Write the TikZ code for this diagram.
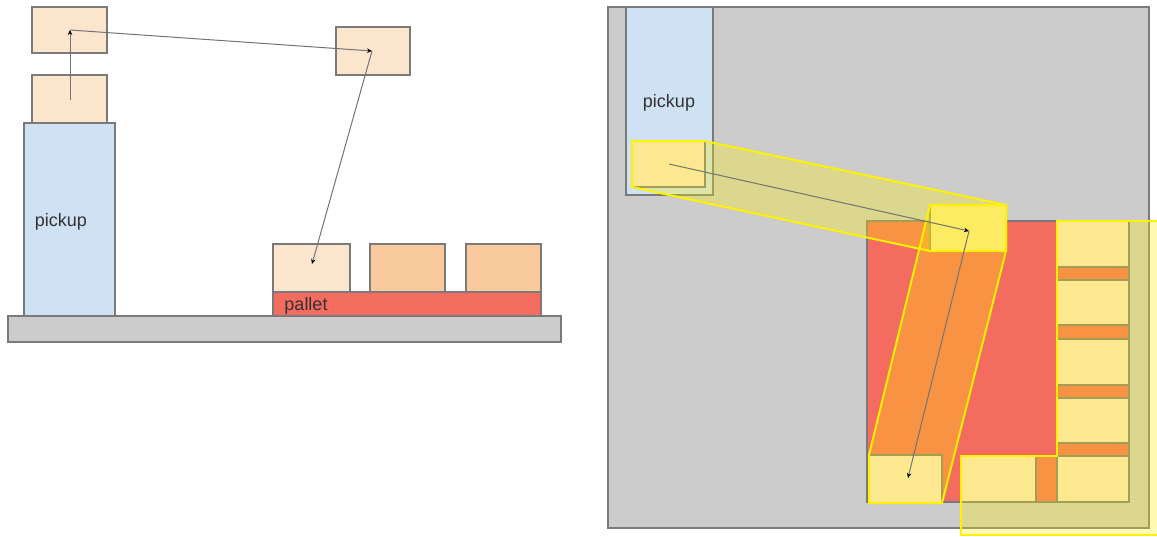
\documentclass[tikz,border=0pt]{standalone}
\usepackage{fontspec}
\setmainfont{Liberation Sans}
\usetikzlibrary{arrows.meta}
\definecolor{peach}{HTML}{FCE5CD}
\definecolor{tan}{HTML}{F9CB9C}
\definecolor{skyb}{HTML}{CFE2F3}
\definecolor{palletred}{HTML}{F46B5F}
\definecolor{floorgray}{HTML}{CCCCCC}
\definecolor{edgegray}{HTML}{7A7A7A}
\definecolor{hilite}{HTML}{FFF200}
\tikzset{
  blockbox/.style={draw=edgegray,line width=1.3pt,inner sep=0pt,outer sep=0pt},
  sweep/.style={draw=hilite,line width=2pt,fill=hilite,fill opacity=0.3,line join=miter},
  conn/.style={draw=black!55,line width=1pt,-{Stealth[length=5pt,width=4.5pt,black]}},
  lbl/.style={font=\fontsize{18}{20}\selectfont,text=black!80,inner sep=0pt},
}
\newcommand{\bx}[6]{\node[blockbox,fill=#2,minimum width={#5-#3},minimum height={#6-#4}] (#1) at ({(#3+#5)/2},{(#4+#6)/2}) {};}
\begin{document}
\begin{tikzpicture}[x=1pt,y=-1pt]
\useasboundingbox (0,0) rectangle (1157,536);
\clip (0,0) rectangle (1157,536);
% side view
\bx{sfloor}{floorgray}{8}{316}{561}{342}
\bx{spick}{skyb}{24}{123}{115}{316}
\bx{sa}{peach}{32}{75}{107}{123}
\bx{sb}{peach}{32}{7}{107}{53}
\bx{sc}{peach}{336}{27}{410}{75}
\bx{spal}{palletred}{273}{292}{541}{316}
\bx{sd}{peach}{273}{244}{350}{292}
\bx{se}{tan}{370}{244}{445}{292}
\bx{sf}{tan}{466}{244}{541}{292}
\node[lbl] (tpick) at (61,222) {pickup};
\node[lbl] (tpal) at (306,305.5) {pallet};
\coordinate (p1) at (70,100);
\coordinate (p2) at (70,30);
\coordinate (p3) at (372,51);
\coordinate (p4) at (312,264);
\draw[conn] (p1) -- (p2);
\draw[conn] (p2) -- (p3);
\draw[conn] (p3) -- (p4);
% top view
\bx{tfloor}{floorgray}{608}{7}{1149}{528}
\bx{tpk}{skyb}{626}{7}{713}{195}
\node[lbl] (tpick2) at (669,103) {pickup};
\bx{tpal2}{palletred}{867}{221}{1129}{502}
\bx{tb}{peach}{1057}{221}{1129}{267}
\bx{tc}{peach}{1057}{280}{1129}{325}
\bx{td}{peach}{1057}{339}{1129}{385}
\bx{te}{peach}{1057}{398}{1129}{443}
\bx{tf}{peach}{1057}{456}{1129}{502}
\bx{tg}{peach}{961}{456}{1036}{502}
\bx{th}{peach}{869}{455}{942}{503}
\bx{ti}{peach}{632}{141}{705}{187}
\bx{tj}{peach}{930}{205}{1006}{251}
\path[sweep] (632,141) -- (705,141) -- (1006,205) -- (1006,251) -- (930,251) -- (632,187) -- cycle;
\path[sweep] (930,205) -- (1006,205) -- (1006,251) -- (942,503) -- (869,503) -- (869,455) -- cycle;
\path[sweep] (1057,221) -- (1170,221) -- (1170,535) -- (961,535) -- (961,456) -- (1057,456) -- cycle;
\coordinate (q1) at (669,164);
\coordinate (q2) at (969,231);
\coordinate (q3) at (908,478);
\draw[conn] (q1) -- (q2);
\draw[conn] (q2) -- (q3);
\end{tikzpicture}
\end{document}
